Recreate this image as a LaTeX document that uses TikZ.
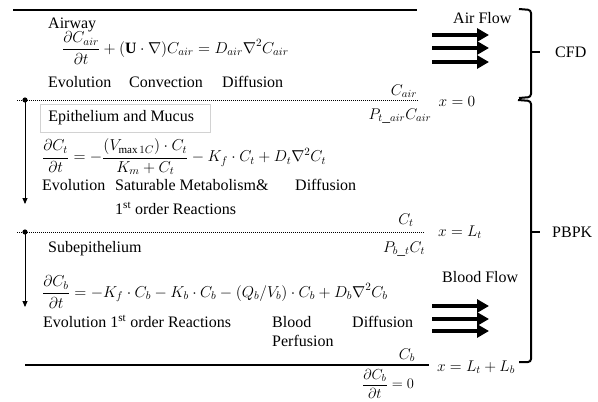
\RequirePackage{fix-cm}
\documentclass[tikz,border=0pt]{standalone}
\usepackage{fontspec}
\setmainfont{Liberation Serif}
\usetikzlibrary{arrows.meta}
\begin{document}
\begin{tikzpicture}[x=1pt,y=-1pt,
  txt/.style={font=\fontsize{16}{18}\selectfont, inner sep=0pt, anchor=base west},
  eq/.style={font=\fontsize{15.8}{18}\selectfont, inner sep=0pt, anchor=west},
  lbl/.style={font=\fontsize{15.5}{18}\selectfont, inner sep=0pt},
  solidline/.style={line width=1.2pt},
  dotline/.style={line width=0.8pt, dash pattern=on 0.8pt off 1.2pt},
  flow/.style={line width=4pt, -{Triangle[length=12pt,width=13pt]}},
  bracepath/.style={line width=2pt, rounded corners=3pt},
  layerarrow/.style={line width=0.9pt, -{Triangle[length=6pt,width=5pt]}},
  dotmark/.style={fill=black},
]
\useasboundingbox (0,0) rectangle (598,402);

% boundary lines
\coordinate (tl) at (13,10); \coordinate (tr) at (417,10);
\draw[solidline] (tl) -- (tr);
\coordinate (d1l) at (17,100); \coordinate (d1r) at (418,100);
\draw[dotline] (d1l) -- (d1r);
\coordinate (d2l) at (17,232); \coordinate (d2r) at (424,232);
\draw[dotline] (d2l) -- (d2r);
\coordinate (bl) at (25,365); \coordinate (br) at (429,365);
\draw[solidline] (bl) -- (br);

% layer arrows
\coordinate (a1s) at (25,100); \coordinate (a1e) at (25,204);
\fill[dotmark] (a1s) circle (2.6pt);
\draw[layerarrow] (a1s) -- (a1e);
\coordinate (a2s) at (25,232); \coordinate (a2e) at (25,307);
\fill[dotmark] (a2s) circle (2.6pt);
\draw[layerarrow] (a2s) -- (a2e);

% Airway
\node[txt] (airway) at (48,28) {Airway};
\node[eq] (eq1) at (62,48) {$\displaystyle \frac{\partial C_{air}}{\partial t} + (\mathbf{U}\cdot\nabla)C_{air} = D_{air}\nabla^2 C_{air}$};
\node[txt] (ev1) at (48,87) {Evolution};
\node[txt] (conv1) at (129,87) {Convection};
\node[txt] (diff1) at (222,87) {Diffusion};

% Epithelium
\node[draw=gray!35, line width=0.6pt, anchor=west, inner xsep=8pt, minimum height=28pt, minimum width=167pt, align=left, font=\fontsize{16}{18}\selectfont] (epi) at (40,118) {Epithelium and Mucus\hspace{8pt}};
\node[eq] (eq2) at (42,157) {$\displaystyle \frac{\partial C_t}{\partial t} = -\frac{(V_{\max 1C})\cdot C_t}{K_m + C_t} - K_f\cdot C_t + D_t\nabla^2 C_t$};
\node[txt] (ev2) at (42,190) {Evolution};
\node[txt] (sat2) at (115,190) {Saturable Metabolism\&};
\node[txt] (diff2) at (295,190) {Diffusion};
\node[txt] (ord2) at (115,214) {1\textsuperscript{st} order Reactions};

% Subepithelium
\node[txt] (sub) at (48,252) {Subepithelium};
\node[eq] (eq3) at (42,292) {$\displaystyle \frac{\partial C_b}{\partial t} = -K_f\cdot C_b - K_b\cdot C_b - (Q_b/V_b)\cdot C_b + D_b\nabla^2 C_b$};
\node[txt] (ev3) at (43,327) {Evolution 1\textsuperscript{st} order Reactions};
\node[txt] (blood3) at (272,327) {Blood};
\node[txt] (perf3) at (272,346) {Perfusion};
\node[txt] (diff3) at (352,327) {Diffusion};

% boundary labels
\node[lbl] (cair) at (404,91) {$C_{air}$};
\node[lbl] (x0) at (457,102) {$x = 0$};
\node[lbl] (ptair) at (400,116) {$P_{t\_air}C_{air}$};
\node[lbl] (ct) at (406,220) {$C_t$};
\node[lbl] (xlt) at (460,232) {$x = L_t$};
\node[lbl] (pbt) at (404,249) {$P_{b\_t}C_t$};
\node[lbl] (cb) at (407,355) {$C_b$};
\node[lbl] (xltlb) at (476,367) {$x = L_t + L_b$};
\node[lbl, font=\fontsize{14.5}{17}\selectfont] (dcb) at (388,384) {$\displaystyle\frac{\partial C_b}{\partial t} = 0$};

% flows
\node[txt] (airflow) at (453,23) {Air Flow};
\coordinate (af1s) at (432,35); \coordinate (af1e) at (489,35);
\coordinate (af2s) at (432,48); \coordinate (af2e) at (489,48);
\coordinate (af3s) at (432,62); \coordinate (af3e) at (489,62);
\draw[flow] (af1s) -- (af1e);
\draw[flow] (af2s) -- (af2e);
\draw[flow] (af3s) -- (af3e);

\node[txt] (bloodflow) at (442,282) {Blood Flow};
\coordinate (bf1s) at (432,306); \coordinate (bf1e) at (489,306);
\coordinate (bf2s) at (432,319); \coordinate (bf2e) at (489,319);
\coordinate (bf3s) at (432,331); \coordinate (bf3e) at (489,331);
\draw[flow] (bf1s) -- (bf1e);
\draw[flow] (bf2s) -- (bf2e);
\draw[flow] (bf3s) -- (bf3e);

% braces
\draw[bracepath] (519,9) -- (531,10) -- (531,97) -- (519,98);
\coordinate (cfdtip) at (531,52); \coordinate (cfdtipend) at (540,52);
\draw[line width=2pt] (cfdtip) -- (cfdtipend);
\node[txt] (cfd) at (555,57) {CFD};

\draw[bracepath] (518,100) -- (531,101) -- (531,362) -- (519,362);
\coordinate (pbpktip) at (531,232); \coordinate (pbpktipend) at (540,232);
\draw[line width=2pt] (pbpktip) -- (pbpktipend);
\node[txt] (pbpk) at (552,237) {PBPK};
\end{tikzpicture}
\end{document}
